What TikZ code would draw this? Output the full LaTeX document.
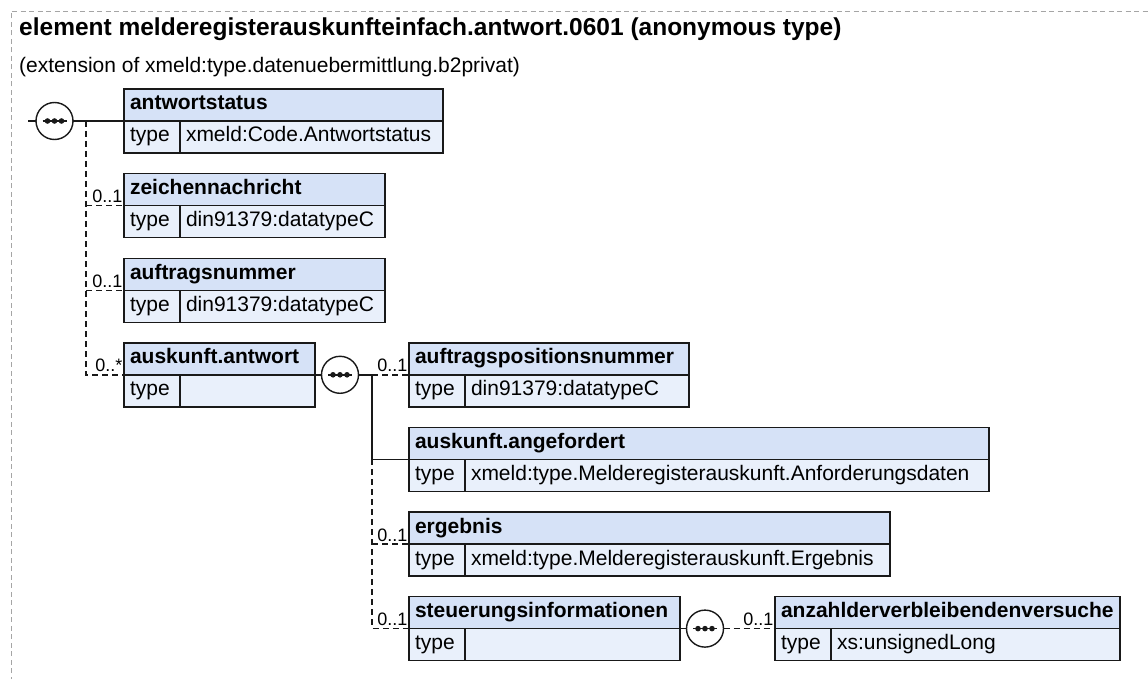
\documentclass[tikz,border=0pt]{standalone}
\usepackage{fontspec}
\setmainfont{Liberation Sans}
\usetikzlibrary{calc}
\definecolor{hdrfill}{RGB}{214,226,247}
\definecolor{rowfill}{RGB}{233,240,251}
\definecolor{framegray}{RGB}{165,165,165}
\definecolor{edgecol}{RGB}{25,25,25}
\tikzset{
  basefont/.style={font=\fontsize{21}{25}\selectfont},
  cell/.style={draw=edgecol, line width=1.4pt, rectangle, inner xsep=6pt, inner ysep=0pt, outer sep=0pt,
    minimum height=32pt, text height=15pt, text depth=5pt, align=left},
  hdr/.style={cell, fill=hdrfill, font=\fontsize{21}{25}\selectfont\bfseries},
  rowcell/.style={cell, fill=rowfill, font=\fontsize{21}{25}\selectfont},
  seq/.style={circle, draw=edgecol, line width=1.4pt, fill=white, minimum size=37pt, inner sep=0pt, outer sep=0pt},
  conn/.style={draw=edgecol, line width=1.4pt},
  dconn/.style={draw=edgecol, line width=1.4pt, dash pattern=on 6pt off 4pt},
  mult/.style={font=\fontsize{18}{21}\selectfont, inner sep=0pt, anchor=base east},
  frameline/.style={draw=framegray, line width=0.9pt, dash pattern=on 5pt off 3.5pt}
}
\newcommand\schemabox[6]{%
  \pgfmathsetmacro\hw{#4-12}%
  \pgfmathsetmacro\vw{#4-56-12}%
  \node[hdr, text width=\hw pt, anchor=north west] (#1) at (#2,#3) {#5};
  \node[rowcell, text width=44pt, anchor=north west] (#1-t) at (#1.south west) {type};
  \node[rowcell, text width=\vw pt, anchor=north west] (#1-v) at (#1-t.north east) {#6};
}
\newcommand\seqsym[3]{%
  \node[seq] (#1) at (#2,#3) {};
  \draw[line width=1.6pt, draw=edgecol] ([xshift=-12pt]#1.center) -- ([xshift=12pt]#1.center);
  \fill[edgecol] ([xshift=-7pt]#1.center) circle (2.8pt) (#1.center) circle (2.8pt) ([xshift=7pt]#1.center) circle (2.8pt);
}
\begin{document}
\begin{tikzpicture}[x=1pt, y=-1pt]
\useasboundingbox (0,0) rectangle (1148,679);
% outer dashed frame (continues beyond the picture)
\draw[frameline] (11,690) -- (11,11) -- (1160,11);
% title
\node[anchor=base west, inner sep=0pt, font=\fontsize{24.5}{29}\selectfont\bfseries] (title) at (19,36)
  {element melderegisterauskunfteinfach.antwort.0601 (anonymous type)};
\node[anchor=base west, inner sep=0pt, basefont] (subtitle) at (19,73)
  {(extension of xmeld:type.datenuebermittlung.b2privat)};
% boxes
\schemabox{as}{124}{89}{319}{antwortstatus}{xmeld:Code.Antwortstatus}
\schemabox{zn}{124}{173.6}{261}{zeichennachricht}{din91379:datatypeC}
\schemabox{an}{124}{258.2}{261}{auftragsnummer}{din91379:datatypeC}
\schemabox{aa}{124}{342.8}{191}{auskunft.antwort}{}
\schemabox{ap}{409}{342.8}{280}{auftragspositionsnummer}{din91379:datatypeC}
\schemabox{ag}{409}{427.4}{580}{auskunft.angefordert}{xmeld:type.Melderegisterauskunft.Anforderungsdaten}
\schemabox{er}{409}{512}{481}{ergebnis}{xmeld:type.Melderegisterauskunft.Ergebnis}
\schemabox{si}{409}{596.6}{271}{steuerungsinformationen}{}
\schemabox{av}{775}{596.6}{345}{anzahlderverbleibendenversuche}{xs:unsignedLong}
% sequence symbols
\seqsym{s1}{54.5}{121}
\seqsym{s2}{340}{374.8}
\seqsym{s3}{705}{628.6}
% junction coordinates
\coordinate (root) at (28,121);
\coordinate (j1) at (86,121);
\coordinate (j2) at (372,374.8);
% level 1 connectors
\draw[conn] (root) -- (s1.west);
\draw[conn] (s1.east) -- (as.south west);
\draw[dconn] (j1) |- (aa.south west);
\draw[dconn] (j1 |- zn.south west) -- (zn.south west);
\draw[dconn] (j1 |- an.south west) -- (an.south west);
\node[mult] (m-zn) at ($(zn.south west)+(-1.5,-3)$) {0..1};
\node[mult] (m-an) at ($(an.south west)+(-1.5,-3)$) {0..1};
\node[mult] (m-aa) at ($(aa.south west)+(-1.5,-3)$) {0..*};
% level 2 connectors
\draw[conn] (aa.south east) -- (s2.west);
\draw[conn] (s2.east) -- (j2);
\draw[dconn] (j2) -- (ap.south west);
\draw[conn] (j2) |- (ag.south west);
\draw[dconn] (j2 |- ag.south west) |- (si.south west);
\draw[dconn] (j2 |- er.south west) -- (er.south west);
\node[mult] (m-ap) at ($(ap.south west)+(-1.5,-3)$) {0..1};
\node[mult] (m-er) at ($(er.south west)+(-1.5,-3)$) {0..1};
\node[mult] (m-si) at ($(si.south west)+(-1.5,-3)$) {0..1};
% level 3 connectors
\draw[conn] (si.south east) -- (s3.west);
\draw[dconn] (s3.east) -- (av.south west);
\node[mult] (m-av) at ($(av.south west)+(-1.5,-3)$) {0..1};
\end{tikzpicture}
\end{document}
